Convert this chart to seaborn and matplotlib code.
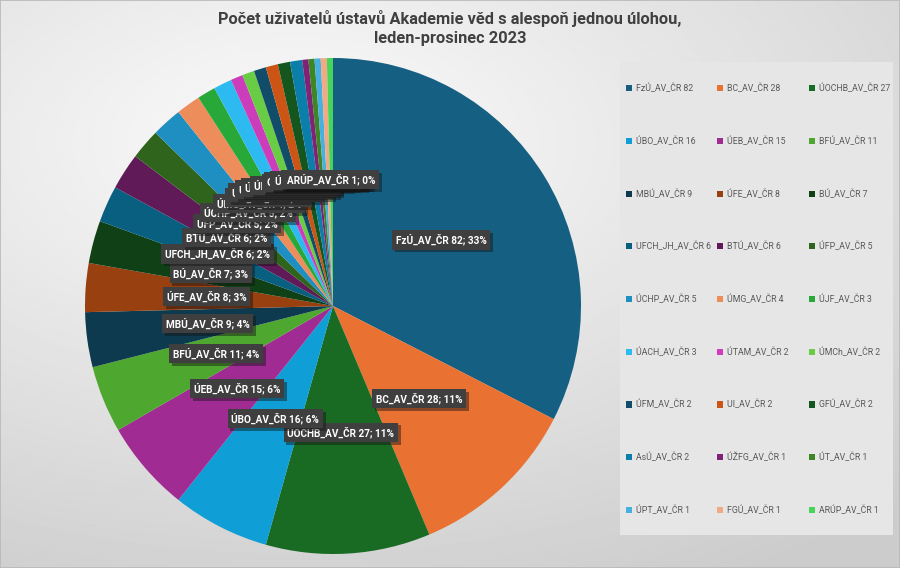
import colorsys

import matplotlib.colors as mcolors
import matplotlib.patheffects as pe
import matplotlib.pyplot as plt
import numpy as np
import seaborn as sns
from matplotlib.patches import Patch, Rectangle

institutes = [
    "FzÚ_AV_ČR", "BC_AV_ČR", "ÚOCHB_AV_ČR", "ÚBO_AV_ČR", "ÚEB_AV_ČR",
    "BFÚ_AV_ČR", "MBÚ_AV_ČR", "ÚFE_AV_ČR", "BÚ_AV_ČR", "UFCH_JH_AV_ČR",
    "BTÚ_AV_ČR", "ÚFP_AV_ČR", "ÚCHP_AV_ČR", "ÚMG_AV_ČR", "ÚJF_AV_ČR",
    "ÚACH_AV_ČR", "ÚTAM_AV_ČR", "ÚMCh_AV_ČR", "ÚFM_AV_ČR", "UI_AV_ČR",
    "GFÚ_AV_ČR", "AsÚ_AV_ČR", "ÚŽFG_AV_ČR", "ÚT_AV_ČR", "ÚPT_AV_ČR",
    "FGÚ_AV_ČR", "ARÚP_AV_ČR",
]
users = [82, 28, 27, 16, 15, 11, 9, 8, 7, 6, 6, 5, 5, 4, 3, 3, 2, 2, 2, 2, 2, 2, 1, 1, 1, 1, 1]

title = "Počet uživatelů ústavů Akademie věd s alespoň jednou úlohou,\nleden-prosinec 2023"

# Office theme accents, Excel cycles them with darker / lighter variants
accents = ["#156082", "#E97132", "#196B24", "#0F9ED5", "#A02B93", "#4EA72E"]
lum_steps = [(1.0, 0.0), (0.6, 0.0), (0.8, 0.2), (0.8, 0.0), (0.6, 0.4)]


def excel_color(i):
    r, g, b = mcolors.to_rgb(accents[i % 6])
    h, l, s = colorsys.rgb_to_hls(r, g, b)
    mod, off = lum_steps[i // 6]
    return colorsys.hls_to_rgb(h, l * mod + off, s)


sns.set_theme(style="white")
plt.rcParams["font.family"] = ["Roboto", "DejaVu Sans"]
colors = sns.color_palette([excel_color(i) for i in range(len(users))])

fig = plt.figure(figsize=(9, 5.68), dpi=100)

# soft radial background like the Excel chart area
bg = fig.add_axes([0, 0, 1, 1], zorder=-10)
yy, xx = np.mgrid[0:1:300j, 0:1:450j]
dist = np.sqrt(((xx - 0.33) / 1.0) ** 2 + ((yy - 0.25) / 0.9) ** 2)
shade = np.clip(0.985 - 0.19 * dist, 0.80, 0.985)
bg.imshow(shade, cmap="gray", vmin=0, vmax=1, aspect="auto", extent=(0, 1, 1, 0))
bg.set_axis_off()
bg.add_patch(Rectangle((0, 0), 1, 1, transform=bg.transAxes, fill=False,
                       edgecolor="#b8b8b8", linewidth=1.2))

ax = fig.add_axes([85 / 900, 14 / 568, 496 / 900, 496 / 568])
ax.set_facecolor("none")
wedges, _ = ax.pie(users, colors=colors, startangle=90, counterclock=False,
                   radius=1, wedgeprops=dict(linewidth=0))
ax.set_xlim(-1, 1)
ax.set_ylim(-1, 1)

total = sum(users)
for i, (w, name, val) in enumerate(zip(wedges, institutes, users)):
    ang = np.deg2rad((w.theta1 + w.theta2) / 2)
    txt = ax.text(0.51 * np.cos(ang), 0.51 * np.sin(ang),
                  f"{name} {val}; {val / total * 100:.0f}%",
                  ha="center", va="center", fontsize=7.2, fontweight="bold",
                  color="white", zorder=10 + i,
                  bbox=dict(boxstyle="square,pad=0.38", facecolor="#3f3f3f",
                            edgecolor="none"))
    txt.get_bbox_patch().set_path_effects(
        [pe.SimplePatchShadow(offset=(2, -2), alpha=0.45), pe.Normal()])

fig.text(0.5, 1 - 10 / 568, title, ha="center", va="top", fontsize=11.8,
         fontweight="bold", color="#404040", linespacing=1.3)

# legend panel, Excel fills it row by row in three equal columns
fig.add_artist(Rectangle((620 / 900, 33 / 568), 273 / 900, 473 / 568,
                         transform=fig.transFigure, facecolor="#e6e6e6",
                         edgecolor="none", zorder=0))
col_x = [626, 717, 809]
for c, x in enumerate(col_x):
    idx = list(range(c, len(institutes), 3))
    handles = [Patch(facecolor=colors[k], edgecolor="none") for k in idx]
    labels = [f"{institutes[k]} {users[k]}" for k in idx]
    fig.legend(handles, labels, loc="upper left",
               bbox_to_anchor=(x / 900, (568 - 84) / 568), frameon=False,
               fontsize=6.3, labelspacing=4.95, handlelength=0.7,
               handleheight=0.7, handletextpad=0.4, borderpad=0,
               borderaxespad=0, labelcolor="#595959")

fig.savefig("out.png", dpi=100)
